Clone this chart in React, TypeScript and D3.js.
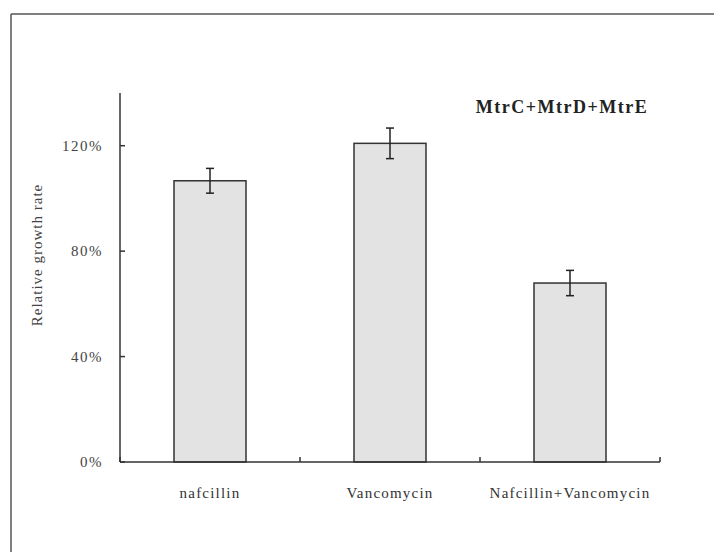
import React from "react";
import * as d3 from "d3";

const categories = ["nafcillin", "Vancomycin", "Nafcillin+Vancomycin"];
const values = [106.7, 120.9, 67.9];
const errors = [4.7, 5.8, 4.8];
const yTicks = [0, 40, 80, 120];
const title = "MtrC+MtrD+MtrE";
const yLabel = "Relative growth rate";

export default function App() {
  const W = 714, H = 552;
  const x = d3.scaleBand<string>().domain(categories).range([120, 660]).paddingInner(0.6).paddingOuter(0.3);
  const step = x.step();
  const y = d3.scaleLinear().domain([0, 140]).range([462, 93]);
  const font = "'Liberation Serif', 'Times New Roman', serif";
  const axisColor = "#333";
  const catEdges = d3.range(categories.length + 1).map(i => 120 + i * step);

  return (
    <svg width={W} height={H} style={{ position: "absolute", left: 0, top: 0, background: "#fff" }}>
      {/* outer frame */}
      <line x1={11} y1={14} x2={W} y2={14} stroke="#555" strokeWidth={1.5} />
      <line x1={11} y1={14} x2={11} y2={H} stroke="#555" strokeWidth={1.5} />

      {/* bars */}
      {categories.map((c, i) => (
        <rect key={c} x={x(c)!} y={y(values[i])} width={x.bandwidth()} height={y(0) - y(values[i])}
          fill="#e3e3e3" stroke="#333" strokeWidth={1.5} />
      ))}

      {/* error bars */}
      {categories.map((c, i) => {
        const cx = x(c)! + x.bandwidth() / 2;
        const top = y(values[i] + errors[i]);
        const bot = y(values[i] - errors[i]);
        return (
          <g key={"e" + c} stroke="#222" strokeWidth={1.5}>
            <line x1={cx} x2={cx} y1={top} y2={bot} />
            <line x1={cx - 4} x2={cx + 4} y1={top} y2={top} />
            <line x1={cx - 4} x2={cx + 4} y1={bot} y2={bot} />
          </g>
        );
      })}

      {/* y axis */}
      <line x1={120} x2={120} y1={y(140)} y2={y(0)} stroke={axisColor} strokeWidth={1.5} />
      {yTicks.map(t => (
        <g key={"yt" + t}>
          <line x1={120} x2={125} y1={y(t)} y2={y(t)} stroke={axisColor} strokeWidth={1.5} />
          <text x={103} y={y(t)} dy="0.35em" textAnchor="end" fontFamily={font} fontSize={15}
            letterSpacing={1.5} fill="#444">{t + "%"}</text>
        </g>
      ))}

      {/* x axis */}
      <line x1={120} x2={660} y1={y(0)} y2={y(0)} stroke={axisColor} strokeWidth={1.5} />
      {catEdges.map((e, i) => (
        <line key={"xt" + i} x1={e} x2={e} y1={y(0)} y2={y(0) - 5} stroke={axisColor} strokeWidth={1.5} />
      ))}
      {categories.map(c => (
        <text key={"xl" + c} x={x(c)! + x.bandwidth() / 2} y={498} textAnchor="middle" fontFamily={font}
          fontSize={15} letterSpacing={1.2} fill="#333">{c}</text>
      ))}

      {/* y label */}
      <text transform={`translate(42,255) rotate(-90)`} textAnchor="middle" fontFamily={font} fontSize={15}
        letterSpacing={1} fill="#444">{yLabel}</text>

      {/* title */}
      <text x={562} y={113} textAnchor="middle" fontFamily={font} fontSize={18} fontWeight="bold"
        letterSpacing={1.5} fill="#222">{title}</text>
    </svg>
  );
}
